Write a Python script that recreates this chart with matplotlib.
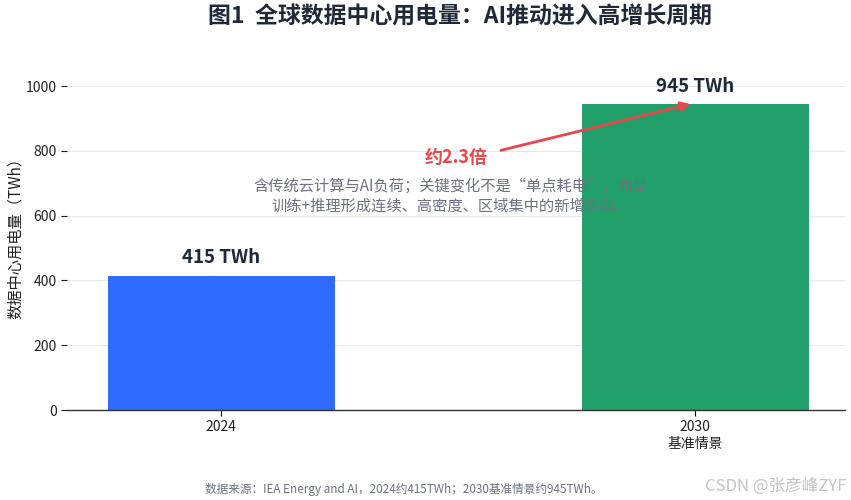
import matplotlib
matplotlib.use("Agg")
import matplotlib.pyplot as plt

plt.rcParams['font.family'] = ['Noto Sans CJK SC', 'DejaVu Sans']
plt.rcParams['axes.unicode_minus'] = False

# data
categories = ['2024', '2030\n基准情景']
values = [415, 945]
bar_labels = ['415 TWh', '945 TWh']
colors = ['#2f6bff', '#22a06b']
yticks = [0, 200, 400, 600, 800, 1000]

title = '图1  全球数据中心用电量：AI推动进入高增长周期'
ylabel = '数据中心用电量（TWh）'
ratio_label = '约2.3倍'
note = '含传统云计算与AI负荷；关键变化不是“单点耗电”，而是\n训练+推理形成连续、高密度、区域集中的新增负荷。'
source = '数据来源：IEA Energy and AI，2024约415TWh；2030基准情景约945TWh。'
watermark = 'CSDN @张彦峰ZYF'

fig = plt.figure(figsize=(8.51, 5.0), dpi=100)
ax = fig.add_axes([0.079, 0.18, 0.914, 0.704])

x = list(range(len(categories)))
ax.bar(x, values, width=0.48, color=colors, zorder=2)

for xi, v, lab in zip(x, values, bar_labels):
    ax.annotate(lab, (xi, v), xytext=(0, 6), textcoords='offset points',
                ha='center', va='bottom', fontsize=13.5, fontweight='bold',
                color='#1f2937')

ax.set_xlim(-0.325, 1.316)
ax.set_ylim(0, 1087)
ax.set_xticks(x)
ax.set_xticklabels(categories, fontsize=10, color='#222222')
ax.set_yticks(yticks)
ax.tick_params(axis='y', labelsize=10, colors='#222222', length=4, width=0.8)
ax.tick_params(axis='x', length=4, width=0.8)
ax.set_ylabel(ylabel, fontsize=11, color='#222222', labelpad=1)

ax.grid(axis='y', color='#e5e7eb', linewidth=0.8, zorder=0)
ax.set_axisbelow(True)
for s in ['top', 'right', 'left']:
    ax.spines[s].set_visible(False)
ax.spines['bottom'].set_color('#333333')
ax.spines['bottom'].set_linewidth(1.0)

ax.annotate(ratio_label, xy=(0.99, 945), xytext=(0.495, 780),
            ha='center', va='center', fontsize=13, fontweight='bold',
            color='#e5484d', zorder=5,
            arrowprops=dict(arrowstyle='-|>', color='#e5484d', lw=2,
                            mutation_scale=14, shrinkA=8, shrinkB=0,
                            relpos=(1.0, 0.7)))

ax.text(0.485, 660, note, ha='center', va='center', fontsize=11,
        color='#6b7280', linespacing=1.2, zorder=5)

fig.text(0.54, 0.965, title, ha='center', va='center', fontsize=16.5,
         fontweight='bold', color='#1f2937')
fig.text(0.475, 0.02, source, ha='center', va='center', fontsize=8.4,
         color='#6b7280')
fig.text(0.995, 0.028, watermark, ha='right', va='center', fontsize=12,
         color='#c4c4c4')

fig.savefig('out.png', dpi=100)
